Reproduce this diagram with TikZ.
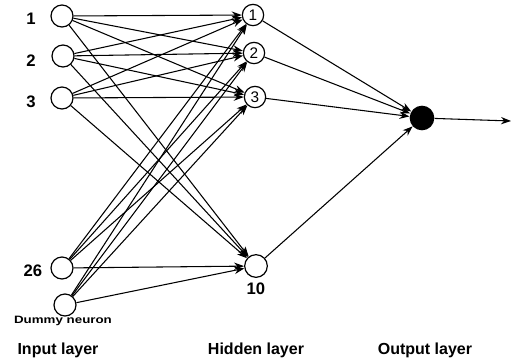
\documentclass[tikz,border=0pt]{standalone}
\usepackage{fontspec}
\setmainfont{Liberation Sans}
\usetikzlibrary{arrows.meta}
\begin{document}
\begin{tikzpicture}[x=0.75pt,y=-0.75pt,
  inp/.style={circle,draw,line width=0.9pt,minimum size=16.5pt,inner sep=0pt},
  hid/.style={circle,draw,line width=0.9pt,minimum size=16pt,inner sep=0pt,font=\fontsize{11.5}{12}\selectfont},
  outn/.style={circle,fill=black,minimum size=18.5pt,inner sep=0pt},
  conn/.style={line width=0.8pt,-{Stealth[length=7.5pt,width=5.5pt]}},
  lbl/.style={font=\fontsize{12.5}{13}\selectfont\bfseries},
  layercap/.style={font=\fontsize{12}{13}\selectfont\bfseries}]
\useasboundingbox (0,0) rectangle (515,362);
% input layer
\node[inp] (i1) at (62,16) {};
\node[inp] (i2) at (63,56) {};
\node[inp] (i3) at (62,98) {};
\node[inp] (i26) at (62,268) {};
\node[inp] (id) at (65,305) {};
\node[lbl] (l1) at (31,19) {1};
\node[lbl] (l2) at (31,61) {2};
\node[lbl] (l3) at (31,102) {3};
\node[lbl] (l26) at (33,271) {26};
\node[font=\fontsize{8}{9}\selectfont\bfseries] (ld) at (63,321) {\scalebox{1.25}[1]{Dummy neuron}};
% hidden layer
\node[hid] (h1) at (253,15) {1};
\node[hid] (h2) at (254,53) {2};
\node[hid] (h3) at (255,97) {3};
\node[hid,minimum size=17pt] (h10) at (256,266) {};
\node[lbl] (l10) at (256,289) {10};
% output layer
\node[outn] (o) at (422,118) {};
\coordinate (oend) at (511,121);
% connections input -> hidden
\foreach \a in {i1,i2,i3,i26,id}
  \foreach \b in {h1,h2,h3,h10}
    \draw[conn] (\a) -- (\b);
% hidden -> output
\foreach \b in {h1,h2,h3,h10}
  \draw[conn] (\b) -- (o);
\draw[conn] (o) -- (oend);
% layer captions
\node[layercap] (ci) at (58,350) {Input layer};
\node[layercap] (ch) at (256,350) {Hidden layer};
\node[layercap] (co) at (425,350) {Output layer};
\end{tikzpicture}
\end{document}
